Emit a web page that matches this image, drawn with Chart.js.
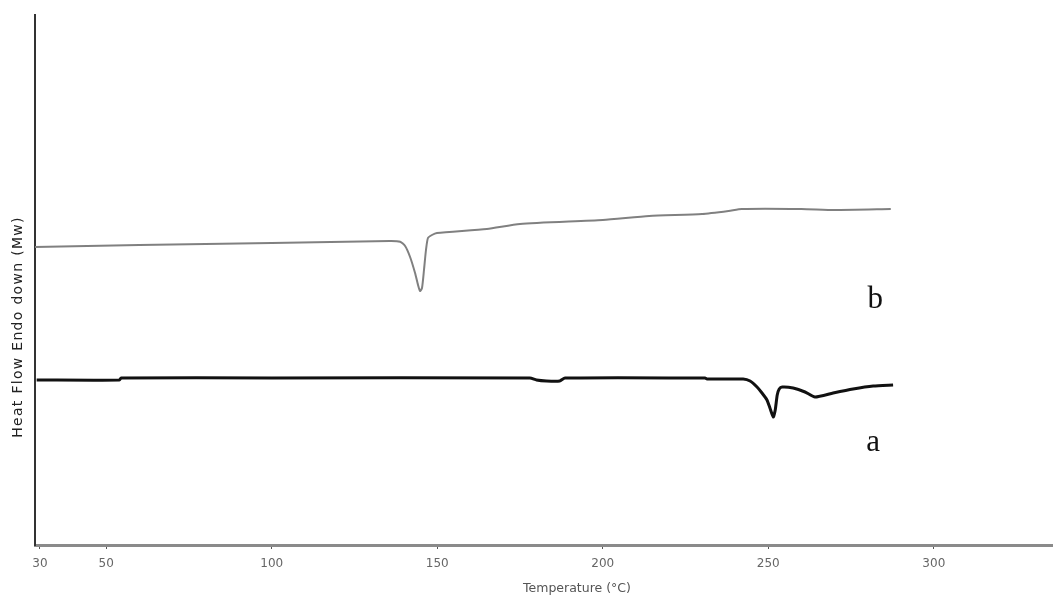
<!DOCTYPE html>
<html>
<head>
<meta charset="utf-8">
<script src="https://cdn.jsdelivr.net/npm/chart.js@4.4.1/dist/chart.umd.min.js"></script>
<style>
  html, body { margin: 0; padding: 0; background: #fff; }
  #chart { display: block; }
</style>
</head>
<body>
<canvas id="chart" width="1054" height="596"></canvas>
<script>
const ctx = document.getElementById('chart').getContext('2d');

// x tick values (°C)
const tempTicks = [30, 50, 100, 150, 200, 250, 300];

// curve b (grey)
const tempB = [28.5, 60, 100, 135.7, 138.8, 140.3, 141.8, 143.3, 144.2, 144.8, 145.4, 146.0, 146.6, 147.2, 148.4, 149.9, 165, 175, 200, 214, 230, 238, 242, 260, 270, 287];
const flowB = [29.8, 30.0, 30.2, 30.4, 30.33, 29.9, 28.8, 27.2, 26.0, 25.4, 25.7, 27.5, 29.5, 30.7, 31.0, 31.2, 31.6, 32.1, 32.5, 32.9, 33.1, 33.4, 33.6, 33.6, 33.5, 33.6];

// curve a (black)
const tempA = [29, 54, 54.5, 100, 178, 180, 183, 187, 188.6, 230.9, 231.5, 242.4, 244.5, 246.6, 248.1, 249.6, 250.5, 251.5, 252.1, 252.7, 253.3, 254.2, 257.5, 261.1, 264.1, 269.6, 275.6, 281.7, 287.7];
const flowA = [16.5, 16.5, 16.7, 16.7, 16.7, 16.5, 16.4, 16.4, 16.7, 16.7, 16.6, 16.6, 16.4, 15.8, 15.2, 14.5, 13.7, 12.8, 13.5, 15.0, 15.6, 15.8, 15.7, 15.3, 14.8, 15.2, 15.6, 15.9, 16.0];

const curveLabels = ['b', 'a'];
const labelTemps = [282.3, 281.7];
const labelFlows = [24.5, 10.2];

function toPoints(xs, ys) {
  return xs.map((x, i) => ({ x: x, y: ys[i] }));
}

const textPlugin = {
  id: 'texts',
  afterDraw(chart) {
    const c = chart.ctx;
    const xs = chart.scales.x;
    const ys = chart.scales.y;
    c.save();
    c.fillStyle = '#111';
    c.font = '31px "Liberation Serif", serif';
    c.textAlign = 'center';
    c.textBaseline = 'middle';
    curveLabels.forEach((t, i) => {
      c.fillText(t, xs.getPixelForValue(labelTemps[i]), ys.getPixelForValue(labelFlows[i]));
    });

    c.fillStyle = '#555';
    c.font = '12.5px "DejaVu Sans", sans-serif';
    c.fillText('Temperature (°C)', 577, 589);

    c.translate(18, 327);
    c.rotate(-Math.PI / 2);
    c.fillStyle = '#222';
    c.font = '14px "DejaVu Sans", sans-serif';
    c.letterSpacing = '1.3px';
    c.fillText('Heat Flow Endo down (Mw)', 0, 0);
    c.restore();
  }
};

const chart = new Chart(ctx, {
  type: 'line',
  data: {
    datasets: [{
      label: 'b',
      data: toPoints(tempB, flowB),
      borderColor: '#808080',
      borderWidth: 2,
      pointRadius: 0,
      tension: 0.2,
    }, {
      label: 'a',
      data: toPoints(tempA, flowA),
      borderColor: '#111',
      borderWidth: 3,
      pointRadius: 0,
      tension: 0.2,
    }],
  },
  options: {
    responsive: false,
    animation: false,
    layout: { padding: { top: 15, right: 2, left: 0, bottom: 0 } },
    plugins: {
      legend: { display: false },
      tooltip: { enabled: false }
    },
    scales: {
      x: {
        type: 'linear',
        min: 28.5,
        max: 335.7,
        afterBuildTicks: (scale) => {
          scale.ticks = tempTicks.map(v => ({ value: v }));
        },
        afterFit: (scale) => { scale.height = 51; },
        border: { color: '#8a8a8a', width: 3 },
        grid: {
          drawOnChartArea: false,
          drawTicks: true,
          tickLength: 4,
          color: '#555'
        },
        ticks: {
          color: '#666',
          padding: 8,
          maxRotation: 0,
          font: { size: 12, family: 'DejaVu Sans' }
        }
      },
      y: {
        min: 0,
        max: 53.0,
        afterFit: (scale) => { scale.width = 35; },
        border: { color: '#333', width: 2 },
        grid: { display: false },
        ticks: { display: false }
      }
    }
  },
  plugins: [textPlugin]
});
</script>
</body>
</html>
